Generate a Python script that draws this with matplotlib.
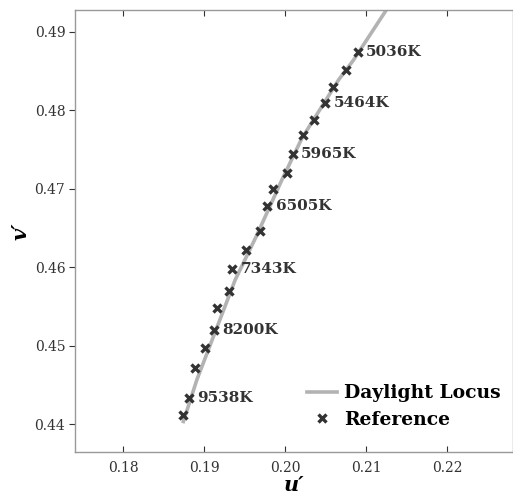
import numpy as np
import matplotlib
matplotlib.use("Agg")
import matplotlib.pyplot as plt
from matplotlib.ticker import FormatStrFormatter

# Reference points (u', v')
ref_u = [0.20893, 0.20753, 0.20593, 0.20490, 0.20354, 0.20219, 0.20095, 0.20021,
         0.19848, 0.19781, 0.19695, 0.19519, 0.19349, 0.19309, 0.19157, 0.19123,
         0.19012, 0.18889, 0.18811, 0.18744]
ref_v = [0.48738, 0.48512, 0.48292, 0.48088, 0.47875, 0.47684, 0.47438, 0.47204,
         0.46992, 0.46780, 0.46461, 0.46215, 0.45973, 0.45701, 0.45484, 0.45200,
         0.44967, 0.44712, 0.44330, 0.44117]

# CCT labels, placed on every third reference point
cct_labels = ["5036K", "5464K", "5965K", "6505K", "7343K", "8200K", "9538K"]
cct_index = [0, 3, 6, 9, 12, 15, 18]

# Daylight locus curve
locus_u = [0.18744, 0.18910, 0.19107, 0.19383, 0.19642, 0.19959, 0.20206,
           0.20658, 0.20843, 0.21247, 0.21450]
locus_v = [0.44032, 0.44563, 0.45094, 0.45837, 0.46389, 0.47111, 0.47642,
           0.48385, 0.48639, 0.49276, 0.49600]

plt.rcParams['font.family'] = ['DejaVu Serif']

fig = plt.figure(figsize=(5.13, 5.01), dpi=100)
ax = fig.add_axes([0.1462, 0.0984, 0.8538, 0.8816])

ax.plot(locus_u, locus_v, color='#b3b3b3', lw=2.6, label='Daylight Locus', zorder=2)
ax.plot(ref_u, ref_v, linestyle='none', marker='x', color='#333333', ms=6, mew=2.4,
        label='Reference', zorder=3)

for lab, i in zip(cct_labels, cct_index):
    ax.annotate(lab, (ref_u[i], ref_v[i]), xytext=(6, 0), textcoords='offset points',
                va='center', ha='left', fontsize=11, fontweight='bold', color='#333333')

ax.set_xlim(0.17407, 0.2281)
ax.set_ylim(0.43647, 0.49276)
ax.set_xticks([0.18, 0.19, 0.20, 0.21, 0.22])
ax.set_yticks([0.44, 0.45, 0.46, 0.47, 0.48, 0.49])
ax.xaxis.set_major_formatter(FormatStrFormatter('%.2f'))
ax.yaxis.set_major_formatter(FormatStrFormatter('%.2f'))

ax.tick_params(axis='x', which='both', direction='in', top=True, length=4,
               color='#333333', labelsize=10, labelcolor='#333333', pad=7)
ax.tick_params(axis='y', which='both', direction='out', right=False, length=4,
               color='#333333', labelsize=10, labelcolor='#333333', pad=3)

for s in ['left', 'bottom', 'top', 'right']:
    ax.spines[s].set_color('#999999')
    ax.spines[s].set_linewidth(1.0)

ax.set_xlabel("u′", fontsize=15, fontweight='bold', style='italic', labelpad=0)
ax.set_ylabel("v′", fontsize=15, fontweight='bold', style='italic', labelpad=3)

ax.legend(loc='lower right', bbox_to_anchor=(0.99, 0.035), frameon=False,
          prop={'weight': 'bold', 'size': 13.5},
          handlelength=1.6, handletextpad=0.4, borderaxespad=0.0, labelspacing=0.45)

fig.savefig('out.png', dpi=100)
